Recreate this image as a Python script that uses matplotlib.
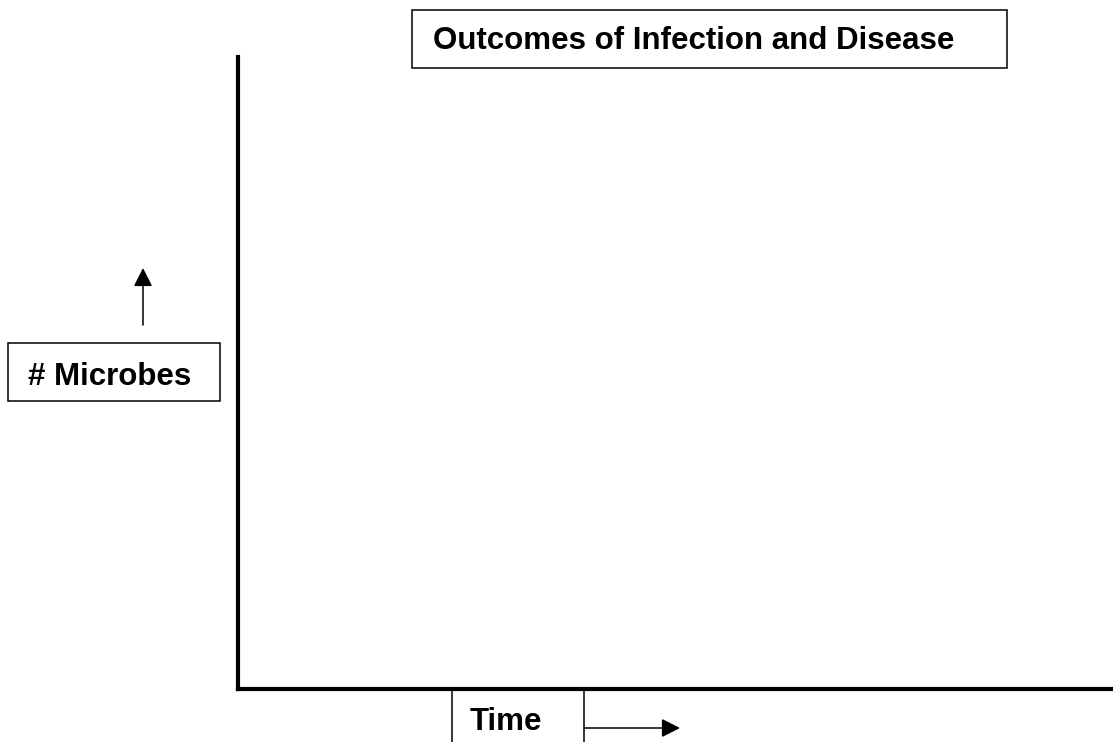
import matplotlib
matplotlib.use("Agg")
import matplotlib.pyplot as plt
from matplotlib.patches import Rectangle

plt.rcParams['font.family'] = ['Liberation Sans', 'DejaVu Sans']

# blank template - just the labels
title_text = "Outcomes of Infection and Disease"
y_label = "# Microbes"
x_label = "Time"

W, H = 1113, 742
fig = plt.figure(figsize=(W / 100, H / 100), dpi=100)

# the real axes: only left and bottom lines, no ticks
ax = fig.add_axes([238 / W, (H - 689) / H, 1 - 238 / W, (689 - 57) / H])
for side in ["top", "right"]:
    ax.spines[side].set_visible(False)
for side in ["left", "bottom"]:
    ax.spines[side].set_linewidth(3.0)
ax.set_xticks([])
ax.set_yticks([])
ax.patch.set_alpha(0)

# overlay in pixel coords for the boxes and arrows
ov = fig.add_axes([0, 0, 1, 1], zorder=5)
ov.set_xlim(0, W)
ov.set_ylim(H, 0)
ov.axis("off")
ov.patch.set_alpha(0)

fs = 22.5

def box(x, y, w, h):
    ov.add_patch(Rectangle((x, y), w, h, fill=False, edgecolor="black", linewidth=1.1))

box(412, 10, 595, 58)
ov.text(433, 49, title_text, ha="left", va="baseline", fontsize=fs, fontweight="bold")

box(8, 343, 212, 58)
ov.text(28, 385, y_label, ha="left", va="baseline", fontsize=fs, fontweight="bold")

box(452, 690, 132, 60)
ov.text(470, 730, x_label, ha="left", va="baseline", fontsize=fs, fontweight="bold")

arrow = dict(arrowstyle="-|>,head_length=0.75,head_width=0.38", color="black",
             linewidth=1.1, mutation_scale=15, shrinkA=0, shrinkB=0)
ov.annotate("", xy=(143, 268), xytext=(143, 325), arrowprops=arrow)
ov.annotate("", xy=(680, 728), xytext=(584, 728), arrowprops=arrow)

fig.savefig("out.png", dpi=100)
